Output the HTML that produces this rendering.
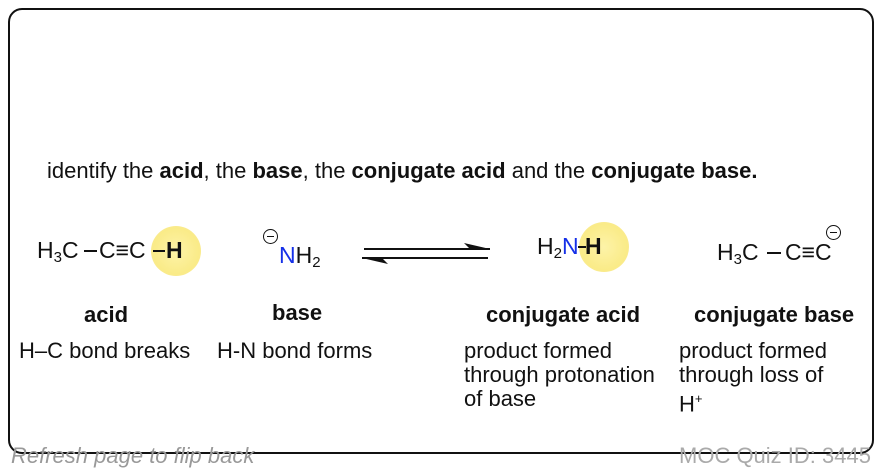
<!DOCTYPE html>
<html><head><style>
body{margin:0;width:882px;height:472px;background:#fff;position:relative;overflow:hidden;font-family:"Liberation Sans",sans-serif;color:#111}
.box{position:absolute;left:8px;top:8px;width:862px;height:442px;border:2px solid #111;border-radius:14px}
.t{position:absolute;white-space:nowrap;font-size:22px;line-height:24px;z-index:2}
.m{position:absolute;white-space:nowrap;font-size:23px;line-height:24px;z-index:2}
sub{font-size:15px;vertical-align:-4px;line-height:0}
.g{position:absolute;border-radius:50%;background:radial-gradient(circle,#fdf3a8 0%,#faeb88 65%,#f5e9a8 100%);z-index:1}
.n{color:#1530e8}
.c{position:absolute;width:13px;height:13px;border:1.5px solid #111;border-radius:50%;z-index:2}
.c:after{content:"";position:absolute;left:3px;top:5.5px;width:7px;height:1.8px;background:#111}
.bd{position:absolute;height:2px;background:#111;z-index:2}
b{font-weight:bold}
</style></head><body>
<div class="box"></div>
<div class="t" style="left:47px;top:159px">identify the <b>acid</b>, the <b>base</b>, the <b>conjugate acid</b> and the <b>conjugate base.</b></div>

<div class="g" style="left:151px;top:226px;width:50px;height:50px"></div>
<div class="m" style="left:37px;top:238px">H<sub>3</sub>C</div>
<div class="bd" style="left:84px;top:250px;width:13px"></div>
<div class="m" style="left:99px;top:238px">C≡C</div>
<div class="bd" style="left:153px;top:250px;width:12px"></div>
<div class="m" style="left:166px;top:238px"><b>H</b></div>

<div class="c" style="left:263px;top:229px"></div>
<div class="m" style="left:279px;top:243px"><span class="n">N</span>H<sub>2</sub></div>

<svg style="position:absolute;left:0;top:0" width="882" height="472">
<line x1="364" y1="249" x2="490" y2="249" stroke="#111" stroke-width="2"/>
<polygon points="490,249 464,243 470,249" fill="#111"/>
<line x1="362" y1="258" x2="488" y2="258" stroke="#111" stroke-width="2"/>
<polygon points="362,258 388,264 382,258" fill="#111"/>
</svg>

<div class="g" style="left:579px;top:222px;width:50px;height:50px"></div>
<div class="m" style="left:537px;top:234px">H<sub>2</sub><span class="n">N</span></div>
<div class="bd" style="left:578px;top:246px;width:8px"></div>
<div class="m" style="left:585px;top:234px"><b>H</b></div>

<div class="m" style="left:717px;top:240px">H<sub>3</sub>C</div>
<div class="bd" style="left:767px;top:252px;width:14px"></div>
<div class="m" style="left:785px;top:240px">C≡C</div>
<div class="c" style="left:826px;top:225px"></div>

<div class="t" style="left:84px;top:303px;font-weight:bold">acid</div>
<div class="t" style="left:272px;top:301px;font-weight:bold">base</div>
<div class="t" style="left:486px;top:303px;font-weight:bold">conjugate acid</div>
<div class="t" style="left:694px;top:303px;font-weight:bold">conjugate base</div>

<div class="t" style="left:19px;top:339px">H–C bond breaks</div>
<div class="t" style="left:217px;top:339px">H-N bond forms</div>
<div class="t" style="left:464px;top:339px">product formed<br>through protonation<br>of base</div>
<div class="t" style="left:679px;top:339px">product formed<br>through loss of<br>H<sup style="font-size:13px">+</sup></div>

<div class="t" style="left:11px;top:444px;color:#999;font-style:italic">Refresh page to flip back</div>
<div class="t" style="left:679px;top:444px;color:#aaa">MOC Quiz ID: 3445</div>
</body></html>
